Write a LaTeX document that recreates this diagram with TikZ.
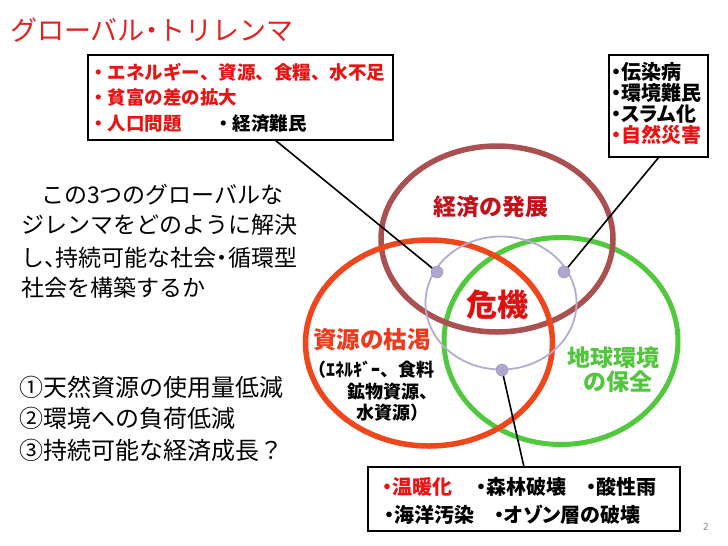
\documentclass[tikz,border=0pt]{standalone}
\usepackage{fontspec}
\setmainfont{Noto Sans CJK JP}
\newfontfamily\jpp{Noto Sans CJK JP}[RawFeature=+palt]
\usetikzlibrary{shapes.geometric}
\definecolor{titlered}{HTML}{E02222}
\definecolor{boxred}{HTML}{E81414}
\definecolor{darkred}{HTML}{C0141C}
\definecolor{crisisred}{HTML}{E01010}
\definecolor{orangered}{HTML}{EE3B1C}
\definecolor{labelgreen}{HTML}{52C43E}
\definecolor{circbrown}{HTML}{AA5050}
\definecolor{circred}{HTML}{F0461C}
\definecolor{circgreen}{HTML}{52C83E}
\definecolor{circlav}{HTML}{B6AACE}
\definecolor{dotlav}{HTML}{B0A6CE}
\definecolor{pagegray}{HTML}{909090}
\begin{document}
\begin{tikzpicture}[x=1pt,y=-1pt,
  txt/.style={inner sep=0pt, anchor=west},
  ctxt/.style={inner sep=0pt, anchor=center},
  infobox/.style={draw=black, line width=1.8pt, fill=white, anchor=north west, inner sep=0pt, outer sep=0pt},
  ring/.style={ellipse, draw, inner sep=0pt, outer sep=0pt},
  joint/.style={circle, fill=dotlav, draw=dotlav!85!black, line width=0.4pt, minimum size=12pt, inner sep=0pt},
  leader/.style={draw=black, line width=1.6pt}]
\useasboundingbox (0,0) rectangle (728,546);
\fill[white] (0,0) rectangle (728,546);

% title
\node[txt, text=titlered, font=\fontsize{27}{30}\selectfont] (title) at (10,30) {グローバル{\jpp ・}トリレンマ};

% circles
\node[ring, draw=circgreen, line width=5pt, minimum width=234pt, minimum height=207pt] (green) at (561,341) {};
\node[ring, draw=circbrown, line width=5.5pt, minimum width=232pt, minimum height=186pt] (brown) at (497,239) {};
\node[ring, draw=circred, line width=5.5pt, minimum width=247pt, minimum height=206pt] (red) at (429,343) {};
\node[ring, draw=circlav, line width=1.8pt, minimum width=151pt, minimum height=133pt] (lav) at (501,303) {};

% boxes
\node[infobox, minimum width=305pt, minimum height=85pt] (tlbox) at (88,55) {};
\node[infobox, minimum width=99pt, minimum height=102pt] (trbox) at (609,55) {};
\node[infobox, minimum width=312pt, minimum height=64pt] (botbox) at (368,467) {};

% joints and leaders
\node[joint] (j1) at (437,272) {};
\node[joint] (j2) at (564,272) {};
\node[joint] (j3) at (502,370) {};
\coordinate (c1) at (275,140);
\coordinate (c2) at (659,157);
\coordinate (c3) at (524,467);
\draw[leader] (c1) -- (j1);
\draw[leader] (c2) -- (j2);
\draw[leader] (c3) -- (j3);

% top-left box text
\begin{scope}[every node/.style={txt, font=\fontsize{18.5}{22}\selectfont\bfseries}]
\node[text=boxred] (tl1) at (89,72) {・エネルギー、資源、食糧、水不足};
\node[text=boxred] (tl2) at (89,98) {・貧富の差の拡大};
\node[text=boxred] (tl3) at (89,124) {・人口問題};
\node[text=black] (tl4) at (214,124) {・経済難民};
\end{scope}

% top-right box text
\begin{scope}[every node/.style={txt, font=\jpp\fontsize{20}{22}\selectfont\bfseries}]
\node (tr1) at (611,72) {・伝染病};
\node (tr2) at (611,93) {・環境難民};
\node (tr3) at (611,114) {・スラム化};
\node[text=boxred] (tr4) at (611,135) {・自然災害};
\end{scope}

% bottom box text
\begin{scope}[every node/.style={txt, font=\jpp\fontsize{20}{22}\selectfont\bfseries}]
\node[text=boxred] (b1) at (382,487) {・温暖化};
\node (b2) at (476,487) {・森林破壊};
\node (b3) at (586,487) {・酸性雨};
\node (b4) at (384,515) {・海洋汚染};
\node (b5) at (494,515) {・オゾン層の破壊};
\end{scope}

% left text
\begin{scope}[every node/.style={txt, font=\fontsize{23}{26}\selectfont}]
\node (l1) at (41,195) {この3つのグローバルな};
\node (l2) at (21,225) {ジレンマをどのように解決};
\node (l3) at (21,258) {し{\jpp 、}持続可能な社会{\jpp ・}循環型};
\node (l4) at (21,288) {社会を構築するか};
\end{scope}
\begin{scope}[every node/.style={txt, font=\fontsize{24}{26}\selectfont}]
\node (l5) at (19,387) {①天然資源の使用量低減};
\node (l6) at (19,418) {②環境への負荷低減};
\node (l7) at (19,450) {③持続可能な経済成長？};
\end{scope}

% circle labels
\node[ctxt, text=darkred, font=\fontsize{23}{26}\selectfont\bfseries] (lbrown) at (491,207) {経済の発展};
\node[ctxt, text=crisisred, font=\fontsize{31}{34}\selectfont\bfseries] (lcrisis) at (497,305) {危機};
\node[ctxt, text=orangered, font=\fontsize{23.5}{26}\selectfont\bfseries] (lred) at (372,340) {資源の枯渇};
\begin{scope}[every node/.style={txt, font=\fontsize{18}{20}\selectfont\bfseries}]
\node (r1) at (308,370) {（ｴﾈﾙｷﾞｰ、食料};
\node (r2) at (347,392) {鉱物資源、};
\node (r3) at (356,413) {水資源）};
\end{scope}
\node[ctxt, text=labelgreen, font=\fontsize{23}{26}\selectfont\bfseries] (lgreen1) at (613,358) {地球環境};
\node[ctxt, text=labelgreen, font=\fontsize{23}{26}\selectfont\bfseries] (lgreen2) at (618,382) {の保全};

% page number
\node[ctxt, text=pagegray, font=\fontsize{10}{12}\selectfont] (pnum) at (706,527) {2};
\end{tikzpicture}
\end{document}
